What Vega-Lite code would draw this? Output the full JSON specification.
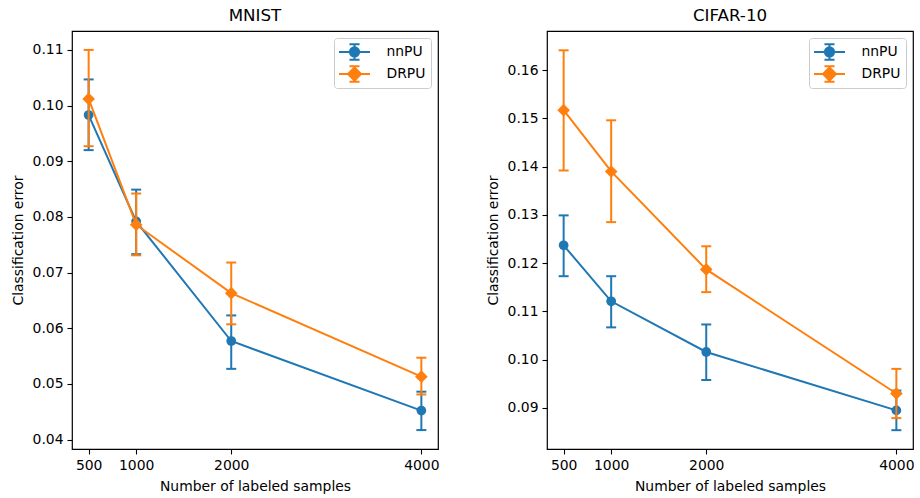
{
  "$schema": "https://vega.github.io/schema/vega-lite/v6.json",
  "padding": {"left": 10, "top": 7, "right": 5, "bottom": 5},
  "background": "white",
  "datasets": {
    "rows": [
      {"dataset": "MNIST", "method": "nnPU", "n": 500, "err": 0.0983, "lo": 0.0920, "hi": 0.1047},
      {"dataset": "MNIST", "method": "nnPU", "n": 1000, "err": 0.0792, "lo": 0.0733, "hi": 0.0849},
      {"dataset": "MNIST", "method": "nnPU", "n": 2000, "err": 0.0577, "lo": 0.0527, "hi": 0.0623},
      {"dataset": "MNIST", "method": "nnPU", "n": 4000, "err": 0.0452, "lo": 0.0417, "hi": 0.0486},
      {"dataset": "MNIST", "method": "DRPU", "n": 500, "err": 0.1012, "lo": 0.0927, "hi": 0.1100},
      {"dataset": "MNIST", "method": "DRPU", "n": 1000, "err": 0.0786, "lo": 0.0731, "hi": 0.0842},
      {"dataset": "MNIST", "method": "DRPU", "n": 2000, "err": 0.0663, "lo": 0.0607, "hi": 0.0718},
      {"dataset": "MNIST", "method": "DRPU", "n": 4000, "err": 0.0513, "lo": 0.0481, "hi": 0.0547},
      {"dataset": "CIFAR-10", "method": "nnPU", "n": 500, "err": 0.1237, "lo": 0.1173, "hi": 0.1299},
      {"dataset": "CIFAR-10", "method": "nnPU", "n": 1000, "err": 0.1121, "lo": 0.1067, "hi": 0.1173},
      {"dataset": "CIFAR-10", "method": "nnPU", "n": 2000, "err": 0.1016, "lo": 0.0958, "hi": 0.1073},
      {"dataset": "CIFAR-10", "method": "nnPU", "n": 4000, "err": 0.0895, "lo": 0.0854, "hi": 0.0936},
      {"dataset": "CIFAR-10", "method": "DRPU", "n": 500, "err": 0.1517, "lo": 0.1392, "hi": 0.1641},
      {"dataset": "CIFAR-10", "method": "DRPU", "n": 1000, "err": 0.1390, "lo": 0.1285, "hi": 0.1496},
      {"dataset": "CIFAR-10", "method": "DRPU", "n": 2000, "err": 0.1187, "lo": 0.1140, "hi": 0.1235},
      {"dataset": "CIFAR-10", "method": "DRPU", "n": 4000, "err": 0.0930, "lo": 0.0879, "hi": 0.0981}
    ]
  },
  "data": {"name": "rows"},
  "bounds": "flush",
  "spacing": 109,
  "resolve": {"scale": {"color": "independent", "x": "independent", "y": "independent"}, "legend": {"color": "independent"}},
  "hconcat": [
    {
      "width": 366, "height": 418,
      "title": "MNIST",
      "transform": [{"filter": "datum.dataset === 'MNIST'"}],
      "encoding": {
        "x": {"field": "n", "type": "quantitative", "title": "Number of labeled samples",
              "scale": {"domain": [325, 4175], "nice": false, "zero": false},
              "axis": {"values": [500, 1000, 2000, 4000], "format": "d"}},
        "color": {"field": "method", "type": "nominal",
                  "scale": {"domain": ["nnPU", "DRPU"], "range": ["#1f77b4", "#ff7f0e"]},
                  "legend": {"title": null, "orient": "top-right", "offset": 7,
                             "encode": {"symbols": {"update": {
                               "shape": {"signal": "datum.value === 'nnPU' ? 'M-2,0H2M0,-1V1M-0.65,-1H0.65M-0.65,1H0.65M0.6,0A0.6,0.6,0,1,1,-0.6,0A0.6,0.6,0,1,1,0.6,0Z' : 'M-2,0H2M0,-1V1M-0.65,-1H0.65M-0.65,1H0.65M0,-0.84L0.84,0L0,0.84L-0.84,0Z'"},
                               "size": {"value": 240},
                               "fill": {"signal": "datum.value === 'nnPU' ? '#1f77b4' : '#ff7f0e'"},
                               "stroke": {"signal": "datum.value === 'nnPU' ? '#1f77b4' : '#ff7f0e'"},
                               "strokeWidth": {"value": 2},
                               "opacity": {"value": 1}
                             }}}}}
      },
      "layer": [
        {"transform": [{"filter": "datum.method === 'nnPU'"}],
         "mark": {"type": "errorbar", "thickness": 2, "rule": {"strokeWidth": 2, "opacity": 1}, "ticks": {"size": 10, "thickness": 2, "opacity": 1}},
         "encoding": {"y": {"field": "lo", "type": "quantitative", "title": "Classification error",
                            "scale": {"domain": [0.0383, 0.1134], "nice": false, "zero": false},
                            "axis": {"values": [0.04, 0.05, 0.06, 0.07, 0.08, 0.09, 0.10, 0.11], "format": ".2f"}},
                      "y2": {"field": "hi"}}},
        {"transform": [{"filter": "datum.method === 'nnPU'"}],
         "mark": {"type": "line", "strokeWidth": 2},
         "encoding": {"y": {"field": "err", "type": "quantitative", "title": "Classification error"}}},
        {"transform": [{"filter": "datum.method === 'nnPU'"}],
         "mark": {"type": "point", "shape": "circle", "filled": true, "size": 95, "opacity": 1},
         "encoding": {"y": {"field": "err", "type": "quantitative", "title": "Classification error"}}},
        {"transform": [{"filter": "datum.method === 'DRPU'"}],
         "mark": {"type": "errorbar", "thickness": 2, "rule": {"strokeWidth": 2, "opacity": 1}, "ticks": {"size": 10, "thickness": 2, "opacity": 1}},
         "encoding": {"y": {"field": "lo", "type": "quantitative", "title": "Classification error"},
                      "y2": {"field": "hi"}}},
        {"transform": [{"filter": "datum.method === 'DRPU'"}],
         "mark": {"type": "line", "strokeWidth": 2},
         "encoding": {"y": {"field": "err", "type": "quantitative", "title": "Classification error"}}},
        {"transform": [{"filter": "datum.method === 'DRPU'"}],
         "mark": {"type": "point", "shape": "diamond", "filled": true, "size": 160, "opacity": 1},
         "encoding": {"y": {"field": "err", "type": "quantitative", "title": "Classification error"}}}
      ]
    },
    {
      "width": 366, "height": 418,
      "title": "CIFAR-10",
      "transform": [{"filter": "datum.dataset === 'CIFAR-10'"}],
      "encoding": {
        "x": {"field": "n", "type": "quantitative", "title": "Number of labeled samples",
              "scale": {"domain": [325, 4175], "nice": false, "zero": false},
              "axis": {"values": [500, 1000, 2000, 4000], "format": "d"}},
        "color": {"field": "method", "type": "nominal",
                  "scale": {"domain": ["nnPU", "DRPU"], "range": ["#1f77b4", "#ff7f0e"]},
                  "legend": {"title": null, "orient": "top-right", "offset": 7,
                             "encode": {"symbols": {"update": {
                               "shape": {"signal": "datum.value === 'nnPU' ? 'M-2,0H2M0,-1V1M-0.65,-1H0.65M-0.65,1H0.65M0.6,0A0.6,0.6,0,1,1,-0.6,0A0.6,0.6,0,1,1,0.6,0Z' : 'M-2,0H2M0,-1V1M-0.65,-1H0.65M-0.65,1H0.65M0,-0.84L0.84,0L0,0.84L-0.84,0Z'"},
                               "size": {"value": 240},
                               "fill": {"signal": "datum.value === 'nnPU' ? '#1f77b4' : '#ff7f0e'"},
                               "stroke": {"signal": "datum.value === 'nnPU' ? '#1f77b4' : '#ff7f0e'"},
                               "strokeWidth": {"value": 2},
                               "opacity": {"value": 1}
                             }}}}}
      },
      "layer": [
        {"transform": [{"filter": "datum.method === 'nnPU'"}],
         "mark": {"type": "errorbar", "thickness": 2, "rule": {"strokeWidth": 2, "opacity": 1}, "ticks": {"size": 10, "thickness": 2, "opacity": 1}},
         "encoding": {"y": {"field": "lo", "type": "quantitative", "title": "Classification error",
                            "scale": {"domain": [0.0815, 0.1681], "nice": false, "zero": false},
                            "axis": {"values": [0.09, 0.10, 0.11, 0.12, 0.13, 0.14, 0.15, 0.16], "format": ".2f"}},
                      "y2": {"field": "hi"}}},
        {"transform": [{"filter": "datum.method === 'nnPU'"}],
         "mark": {"type": "line", "strokeWidth": 2},
         "encoding": {"y": {"field": "err", "type": "quantitative", "title": "Classification error"}}},
        {"transform": [{"filter": "datum.method === 'nnPU'"}],
         "mark": {"type": "point", "shape": "circle", "filled": true, "size": 95, "opacity": 1},
         "encoding": {"y": {"field": "err", "type": "quantitative", "title": "Classification error"}}},
        {"transform": [{"filter": "datum.method === 'DRPU'"}],
         "mark": {"type": "errorbar", "thickness": 2, "rule": {"strokeWidth": 2, "opacity": 1}, "ticks": {"size": 10, "thickness": 2, "opacity": 1}},
         "encoding": {"y": {"field": "lo", "type": "quantitative", "title": "Classification error"},
                      "y2": {"field": "hi"}}},
        {"transform": [{"filter": "datum.method === 'DRPU'"}],
         "mark": {"type": "line", "strokeWidth": 2},
         "encoding": {"y": {"field": "err", "type": "quantitative", "title": "Classification error"}}},
        {"transform": [{"filter": "datum.method === 'DRPU'"}],
         "mark": {"type": "point", "shape": "diamond", "filled": true, "size": 160, "opacity": 1},
         "encoding": {"y": {"field": "err", "type": "quantitative", "title": "Classification error"}}}
      ]
    }
  ],
  "config": {
    "font": "DejaVu Sans",
    "view": {"stroke": "black", "strokeWidth": 1.2},
    "axis": {"domain": false, "grid": false, "tickColor": "black", "tickSize": 5, "tickWidth": 1.1,
             "labelFontSize": 13.9, "labelColor": "black", "labelPadding": 4, "labelFont": "DejaVu Sans",
             "titleFontSize": 13.9, "titleFontWeight": "normal", "titleColor": "black", "titleFont": "DejaVu Sans"},
    "axisY": {"titlePadding": 7},
    "axisX": {"titlePadding": 8},
    "title": {"fontSize": 16.7, "fontWeight": "normal", "color": "black", "font": "DejaVu Sans", "offset": 6},
    "legend": {"labelFontSize": 13.9, "labelColor": "black", "labelFont": "DejaVu Sans", "symbolSize": 240,
               "symbolOffset": 6.5, "labelOffset": 23, "padding": 5, "rowPadding": 4, "clipHeight": 18,
               "strokeColor": "#cccccc",
               "fillColor": "rgba(255,255,255,0.8)", "cornerRadius": 3, "symbolStrokeWidth": 2}
  }
}
